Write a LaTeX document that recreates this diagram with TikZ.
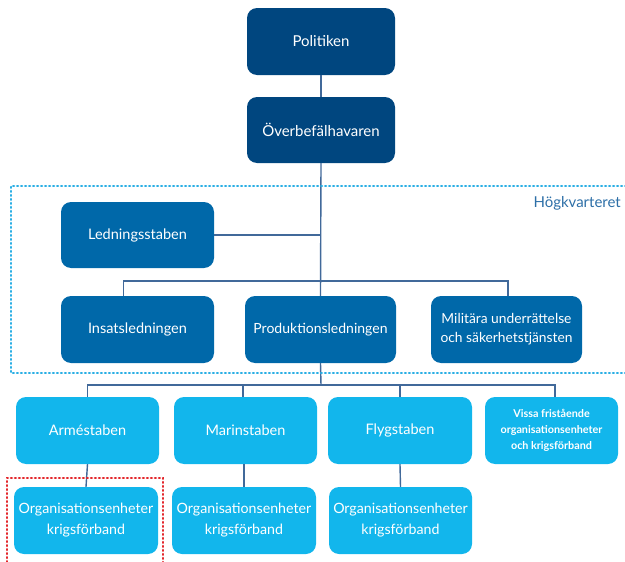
\documentclass[tikz,border=0pt]{standalone}
\usepackage{fontspec}
\setmainfont{Lato}
\definecolor{navy}{HTML}{00467F}
\definecolor{midblue}{HTML}{0068A9}
\definecolor{cyanbox}{HTML}{12B6EC}
\definecolor{linkline}{HTML}{41699A}
\definecolor{hqdots}{HTML}{2AAEE4}
\definecolor{hqtext}{HTML}{2D6FA7}
\definecolor{reddots}{HTML}{E3262B}
\tikzset{
  unit/.style={rounded corners=10pt, text=white, align=center, inner sep=2pt,
    font=\fontsize{14.5}{17}\selectfont},
  topunit/.style={unit, fill=navy, font=\fontsize{15}{18}\selectfont},
  hqunit/.style={unit, fill=midblue},
  armunit/.style={unit, fill=cyanbox},
  orgunit/.style={armunit, minimum height=67pt, font=\fontsize{14.2}{21}\selectfont},
  link/.style={draw=linkline, line width=1.4pt},
  dotframe/.style={line width=2.3pt, dash pattern=on 0.9pt off 3.1pt, line cap=round}
}
\begin{document}
\begin{tikzpicture}[x=1pt,y=-1pt]
\useasboundingbox (0,0) rectangle (625,562);

% top command
\node[topunit, minimum width=148pt, minimum height=67pt] (pol) at (321,41.5) {Politiken};
\node[topunit, minimum width=148pt, minimum height=66pt] (ob) at (321,130) {Överbefälhavaren};

% headquarters
\node[hqunit, minimum width=153pt, minimum height=66pt] (led) at (137.5,235) {Ledningsstaben};
\node[hqunit, minimum width=153pt, minimum height=67pt] (ins) at (137.5,329.5) {Insatsledningen};
\node[hqunit, minimum width=151pt, minimum height=67pt, font=\fontsize{14}{17}\selectfont] (pro) at (320.5,329.5) {Produktionsledningen};
\node[hqunit, minimum width=151pt, minimum height=67pt, font=\fontsize{13.8}{19}\selectfont] (mil) at (506.5,329.5) {Militära underrättelse\\och säkerhetstjänsten};

% service staffs
\node[armunit, minimum width=143pt, minimum height=67pt] (arme) at (87.5,430.5) {Arméstaben};
\node[armunit, minimum width=143pt, minimum height=67pt] (marin) at (245.5,430.5) {Marinstaben};
\node[armunit, minimum width=144pt, minimum height=67pt] (flyg) at (400,430.5) {Flygstaben};
\node[armunit, minimum width=133pt, minimum height=67pt, font=\bfseries\fontsize{10.8}{16}\selectfont] (vissa) at (551.5,430.5) {Vissa fristående\\organisationsenheter\\och krigsförband};

% units
\node[orgunit, minimum width=144pt] (org1) at (86,520.5) {Organisationsenheter\\krigsförband};
\node[orgunit, minimum width=144pt] (org2) at (244,520.5) {Organisationsenheter\\krigsförband};
\node[orgunit, minimum width=143pt] (org3) at (400.5,520.5) {Organisationsenheter\\krigsförband};

% connectors
\coordinate (hqbus) at (321,281);
\coordinate (staffbus) at (321,385);
\draw[link] (pol.south) -- (ob.north);
\draw[link] (ob.south) -- (pro.north);
\draw[link] (led.east) -- (led.east -| ob.south);
\draw[link] ([xshift=-14pt]ins.north) |- (hqbus) -| ([xshift=1.5pt]mil.north);
\draw[link] (pro.south) -- (staffbus);
\draw[link] (arme.north) |- (staffbus) -| ([xshift=3.5pt]vissa.north);
\draw[link] ([xshift=-2.5pt]marin.north) -- ([xshift=-2.5pt]marin.north |- staffbus);
\draw[link] (flyg.north) -- (flyg.north |- staffbus);
\draw[link] (arme.south) -- (org1.north);
\draw[link] (marin.south -| org2.north) -- (org2.north);
\draw[link] (flyg.south) -- (org3.north);

% headquarters frame
\draw[dotframe, hqdots] (630,186) -- (11,186) -- (11,373) -- (630,373);
\node[text=hqtext, anchor=east, font=\fontsize{15}{18}\selectfont, inner sep=0pt] (hq) at (621,203) {Högkvarteret};

% highlighted unit frame
\draw[dotframe, reddots] (7,570) -- (7,478) -- (163,478) -- (163,570);
\end{tikzpicture}
\end{document}
